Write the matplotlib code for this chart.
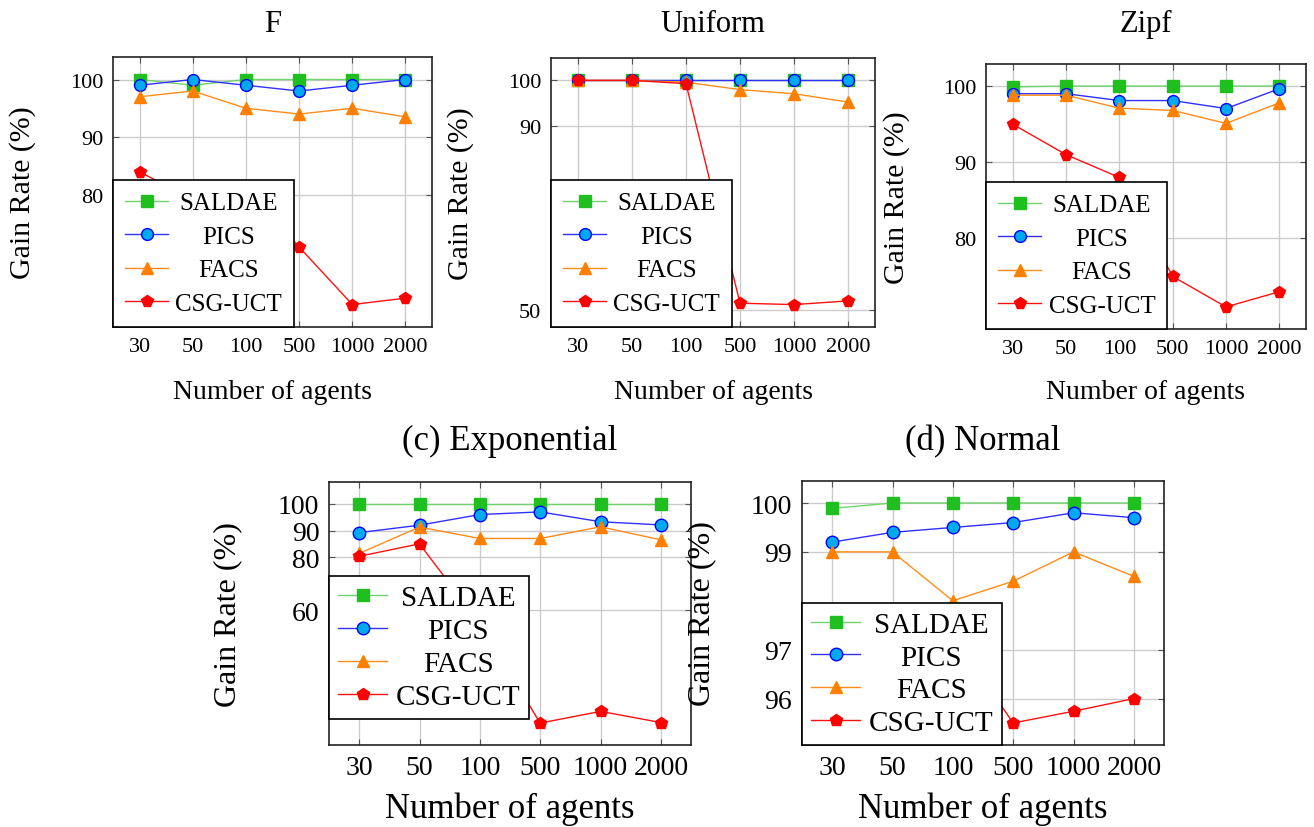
import matplotlib
matplotlib.use("Agg")
import matplotlib.pyplot as plt

plt.rcParams['font.family'] = ['Liberation Serif', 'DejaVu Serif']

W, H = 1314, 828

# x categories
agents = ['30', '50', '100', '500', '1000', '2000']
series_names = ['SALDAE', 'PICS', 'FACS', 'CSG-UCT']

# F
saldae_f = [100, 99, 100, 100, 100, 100]
pics_f = [99, 100, 99, 98, 99, 100]
facs_f = [97, 98, 95, 94, 95, 93.5]
csg_f = [84, 79, 81, 70.9, 60.9, 62]

# Uniform
saldae_u = [100, 100, 100, 100, 100, 100]
pics_u = [100, 100, 100, 100, 100, 100]
facs_u = [100, 100, 99.6, 98, 97.1, 95.3]
csg_u = [100, 100, 99.3, 51.5, 51.2, 52.0]

# Zipf
saldae_z = [99.9, 100, 100, 100, 100, 100]
pics_z = [99, 99, 98.1, 98.1, 97.05, 99.65]
facs_z = [98.8, 98.8, 97.1, 96.8, 95.1, 97.8]
csg_z = [95, 91, 88, 75, 71, 73]

# Exponential
saldae_e = [100, 100, 100, 100, 100, 100]
pics_e = [89.2, 92, 96, 97, 93.3, 92.1]
facs_e = [81.4, 91.3, 87, 87, 91.4, 86.5]
csg_e = [80.3, 85, 55, 17.6, 22, 17.8]

# Normal
saldae_n = [99.89, 100, 100, 100, 100, 100]
pics_n = [99.2, 99.4, 99.5, 99.6, 99.8, 99.7]
facs_n = [99, 99, 98.0, 98.4, 99, 98.5]
csg_n = [97.5, 97.6, 97.3, 95.5, 95.74, 96.0]

yticks_f = [80, 90, 100]
yticks_u = [50, 90, 100]
yticks_z = [80, 90, 100]
yticks_e = [60, 80, 90, 100]
yticks_n = [96, 97, 99, 100]

# line colour, marker, face colour, edge colour
styles = [
    ('#6fd36f', 's', '#1fbf1f', '#1fbf1f'),
    ('#3030ff', 'o', '#00aaee', '#0000ff'),
    ('#ff8c1a', '^', '#ff8000', '#ff8000'),
    ('#ff1010', 'p', '#ff0000', '#ff0000'),
]


def frac(x, y):
    return x / W, 1 - y / H


def rect(x0, y0, x1, y1):
    return [x0 / W, 1 - y1 / H, (x1 - x0) / W, (y1 - y0) / H]


fig = plt.figure(figsize=(W / 100, H / 100), dpi=100)

panels = [
    # data, yticks, axes box, title, title baseline, ylabel x, xlabel baseline, small, legend y anchor
    ([saldae_f, pics_f, facs_f, csg_f], yticks_f, (113, 58, 432, 328), 'F', 32, 23, 399, True, 0.0),
    ([saldae_u, pics_u, facs_u, csg_u], yticks_u, (551, 59, 875, 328), 'Uniform', 32, 461, 399, True, 0.0),
    ([saldae_z, pics_z, facs_z, csg_z], yticks_z, (986, 65, 1306, 330), 'Zipf', 32, 897, 399, True, 0.0),
    ([saldae_e, pics_e, facs_e, csg_e], yticks_e, (329, 483, 691, 746), '(c) Exponential', 450, 228, 818, False, 0.10),
    ([saldae_n, pics_n, facs_n, csg_n], yticks_n, (802, 482, 1164, 746), '(d) Normal', 450, 702, 818, False, 0.0),
]

legends = []
for data, yt, box, title, title_y, ylab_x, xlab_y, small, leg_y in panels:
    ax = fig.add_axes(rect(*box))
    if small:
        tick_fs, lab_fs, ylab_fs, title_fs, leg_fs, ms = 16, 20, 21.5, 22, 18, 8.5
    else:
        tick_fs, lab_fs, ylab_fs, title_fs, leg_fs, ms = 20, 25, 23, 25, 21, 9

    for vals, name, (lc, mk, fc, ec) in zip(data, series_names, styles):
        ax.plot(agents, vals, color=lc, lw=1.0, marker=mk, markersize=ms,
                markerfacecolor=fc, markeredgecolor=ec, markeredgewidth=1.0,
                label=name)

    ax.margins(x=0.1, y=0.1)
    ax.set_yticks(yt)
    ax.grid(True, color='#cccccc', linewidth=1.0)
    ax.set_axisbelow(True)
    ax.tick_params(direction='in', length=4, width=0.8, color='#555555',
                   top=True, right=True, labelsize=tick_fs, pad=7)
    for sp in ax.spines.values():
        sp.set_linewidth(1.2)
        sp.set_color('#222222')

    cx = (box[0] + box[2]) / 2
    cy = (box[1] + box[3]) / 2
    fig.text(*frac(cx, title_y), title, ha='center', va='baseline', fontsize=title_fs)
    fig.text(*frac(cx, xlab_y), 'Number of agents', ha='center', va='baseline', fontsize=lab_fs)
    fig.text(*frac(ylab_x, cy), 'Gain Rate (%)', ha='center', va='center',
             rotation=90, fontsize=ylab_fs)

    if small:
        leg = ax.legend(loc='lower left', bbox_to_anchor=(0, leg_y), borderaxespad=0,
                        fancybox=False, edgecolor='black', framealpha=1, fontsize=leg_fs,
                        handlelength=1.72, handletextpad=0.3, labelspacing=0.44,
                        borderpad=0.48)
    else:
        leg = ax.legend(loc='lower left', bbox_to_anchor=(0, leg_y), borderaxespad=0,
                        fancybox=False, edgecolor='black', framealpha=1, fontsize=leg_fs,
                        handlelength=1.7, handletextpad=0.3, labelspacing=0.22,
                        borderpad=0.3)
    leg.get_frame().set_linewidth(1.2)
    legends.append(leg)

# centre the legend labels in their column
fig.canvas.draw()
renderer = fig.canvas.get_renderer()
for leg in legends:
    texts = leg.get_texts()
    widths = [t.get_window_extent(renderer).width for t in texts]
    maxw = max(widths)
    for t, w in zip(texts, widths):
        t.set_x((maxw - w) / 2)

plt.savefig('out.png', dpi=100, facecolor='white')
